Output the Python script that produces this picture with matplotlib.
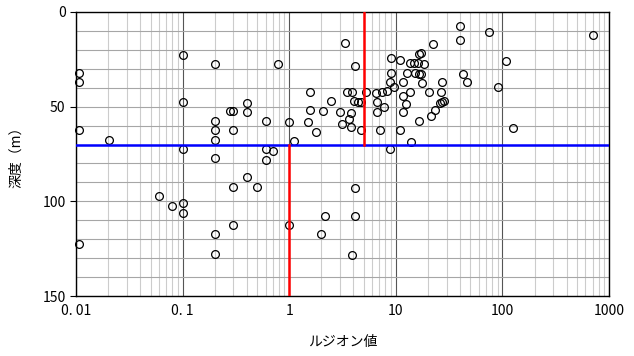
import matplotlib
matplotlib.use("Agg")
import matplotlib.pyplot as plt
from matplotlib.ticker import FixedLocator, NullFormatter

plt.rcParams['font.family'] = ['Noto Sans CJK JP', 'DejaVu Sans']

# ルジオン値 (x) と 深度 (y, m)
lugeon = [0.0107, 0.0107, 0.1, 0.2, 0.78, 0.1, 0.28, 0.3, 0.4, 0.4,
          0.2, 0.2, 0.2, 0.3, 0.6, 1.0, 0.0107, 0.0205, 1.1, 0.1,
          0.6, 0.7, 0.2, 0.6, 0.4, 0.3, 0.5, 0.06, 0.08, 0.1,
          0.1, 0.3, 1.0, 0.2, 0.2, 0.0107,
          8.8, 4.14, 2.17, 4.18, 1.97, 3.86,
          3.34, 4.17, 9.0, 10.9, 9.0, 13.6, 14.9, 16.2, 16.4, 17.3,
          18.5, 22.2, 40, 40, 75, 107, 12.6, 15.0, 16.4, 17.3,
          8.83, 9.6, 11.7, 17.7, 27.3, 43, 46.5, 90, 126, 1.56,
          3.48, 3.91, 4.03, 4.45, 4.69, 5.25, 6.52, 7.38, 8.32, 6.7,
          7.8, 6.7, 2.45, 2.06, 1.56, 1.49, 1.77, 3.01, 3.15, 3.64,
          3.8, 3.8, 4.69, 7.1, 10.9, 13.8, 16.5, 11.6, 12.5, 11.7,
          13.6, 20.5, 26.7, 27.3, 28.5, 26.0, 23.3, 21.4, 703]
depth = [32.3, 37.1, 22.6, 27.4, 27.4, 47.3, 52.3, 52.3, 48.2, 52.6,
         57.5, 62.5, 67.4, 62.3, 57.5, 58.1, 62.5, 67.4, 68.0, 72.4,
         72.4, 73.4, 77.0, 78.2, 87.4, 92.5, 92.5, 97.2, 102.5, 101.1,
         106.4, 112.6, 112.6, 117.5, 127.6, 122.5,
         72.4, 92.7, 107.7, 107.7, 117.5, 128.1,
         16.6, 28.4, 24.2, 25.1, 32.3, 27.0, 27.0, 27.0, 22.1, 21.7,
         27.5, 17.1, 7.6, 15.0, 10.4, 25.9, 32.3, 32.3, 32.5, 32.5,
         37.2, 39.4, 37.2, 37.4, 37.2, 32.7, 37.2, 39.4, 61.4, 42.5,
         42.2, 42.2, 47.1, 47.3, 47.3, 42.3, 42.9, 42.0, 41.7, 47.3,
         50.0, 52.6, 47.0, 52.1, 51.6, 58.2, 63.4, 52.6, 59.0, 56.6,
         53.1, 60.9, 62.3, 62.3, 62.3, 68.7, 57.4, 44.3, 48.7, 52.8,
         42.3, 42.3, 42.5, 47.3, 47.0, 48.2, 51.7, 54.9, 12.2]

depth_limit = 70
lu_upper = 5
lu_lower = 1

xticks = [0.01, 0.1, 1, 10, 100, 1000]
xtick_labels = ["0. 01", "0. 1", "1", "10", "100", "1000"]
yticks = [0, 50, 100, 150]

fig = plt.figure(figsize=(6.34, 3.56), dpi=100)
ax = fig.add_axes([0.1199, 0.1685, 0.8407, 0.7978])

ax.set_xscale('log')
ax.set_xlim(0.01, 1000)
ax.set_ylim(150, 0)

# grid
minor_x = [m * 10.0 ** e for e in range(-2, 3) for m in range(2, 10)]
ax.xaxis.set_minor_locator(FixedLocator(minor_x))
ax.xaxis.set_minor_formatter(NullFormatter())
ax.set_xticks(xticks)
ax.set_xticklabels(xtick_labels)
ax.set_yticks(yticks)
ax.yaxis.set_minor_locator(FixedLocator(list(range(10, 150, 10))))
ax.grid(which='major', axis='x', color='#555555', linewidth=0.8)
ax.grid(which='minor', axis='x', color='#cccccc', linewidth=0.8)
ax.grid(which='both', axis='y', color='#a6a6a6', linewidth=0.8)
ax.set_axisbelow(True)

ax.tick_params(which='minor', length=0)
ax.tick_params(which='major', axis='x', length=0, labelsize=10, pad=6)
ax.tick_params(which='major', axis='y', length=4, direction='out', labelsize=10)
for s in ax.spines.values():
    s.set_linewidth(1.0)
    s.set_color('black')

ax.plot(lugeon, depth, 'o', markerfacecolor='none', markeredgecolor='black',
        markersize=5.6, markeredgewidth=0.9, clip_on=False, zorder=3)

ax.axhline(depth_limit, color='#0000ff', linewidth=1.8, zorder=4)
ax.plot([lu_upper, lu_upper], [0, depth_limit], color='red', linewidth=1.8, zorder=4)
ax.plot([lu_lower, lu_lower], [depth_limit, 150], color='red', linewidth=1.8, zorder=4)

ax.set_xlabel('ルジオン値', fontsize=10, labelpad=12)
ax.set_ylabel('深度（m）', fontsize=10, labelpad=14)

fig.savefig('out.png', dpi=100)
